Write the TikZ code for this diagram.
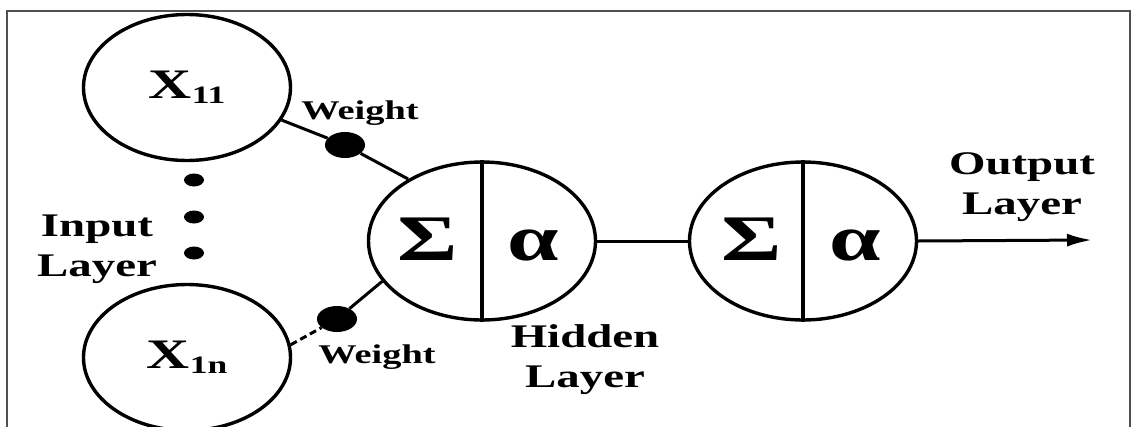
\documentclass[tikz,border=0pt]{standalone}
\usepackage{fontspec}
\setmainfont{Liberation Serif}[FakeStretch=1.42]
\usetikzlibrary{shapes.geometric,arrows.meta}
\definecolor{framegray}{HTML}{505050}
\begin{document}
\begin{tikzpicture}[x=1pt,y=-1pt,
  inp/.style={draw, ellipse, line width=3.4pt, minimum width=207pt, minimum height=146pt, inner sep=0pt,
              font=\fontsize{42}{42}\selectfont\bfseries},
  neuron/.style={draw, ellipse, line width=3.4pt, minimum width=227pt, minimum height=158pt, inner sep=0pt},
  blob/.style={fill, ellipse, minimum width=40pt, minimum height=26pt, inner sep=0pt},
  smalldot/.style={fill, ellipse, minimum width=20pt, minimum height=13pt, inner sep=0pt},
  lbl/.style={font=\fontsize{33}{40}\selectfont\bfseries, align=center, inner sep=0pt},
  wlbl/.style={font=\fontsize{27}{27}\selectfont\bfseries, anchor=base, inner sep=0pt},
  sym/.style={font=\fontsize{65}{65}\selectfont\bfseries, anchor=base, inner sep=0pt},
  conn/.style={line width=3pt}
]
\useasboundingbox (0,0) rectangle (1133,426);
\draw[framegray, line width=1.6pt] (7,432) -- (7,11) -- (1130,11) -- (1130,432);

% input neurons
\node[inp] (x11) at (187,87.5) {X\raisebox{-5pt}{\fontsize{25}{25}\selectfont 11}};
\node[inp] (x1n) at (187,357.5) {X\raisebox{-5pt}{\fontsize{25}{25}\selectfont 1n}};

% dots between inputs
\node[smalldot] (d1) at (194,180) {};
\node[smalldot] (d2) at (194,217) {};
\node[smalldot] (d3) at (194,253) {};

% hidden and output neurons
\node[neuron] (hid) at (482,241) {};
\node[neuron] (out) at (803,241) {};
\draw[line width=3.4pt] (hid.north) -- (hid.south);
\draw[line width=3.4pt] (out.north) -- (out.south);

\node[sym] (hs) at (428,260) {Σ};
\node[sym] (ha) at (533,260) {α};
\node[sym] (os) at (752,260) {Σ};
\node[sym] (oa) at (855,260) {α};

% weights
\node[blob] (w1) at (345,145) {};
\node[blob] (w2) at (337,319) {};
\node[wlbl] (wt1) at (360,119) {Weight};
\node[wlbl] (wt2) at (377,363) {Weight};

% connectors
\draw[conn] (x11.341) -- (w1);
\draw[conn] (w1) -- (hid.140);
\draw[conn, dash pattern=on 7pt off 4pt] (x1n.7) -- (w2);
\draw[conn] (w2) -- (hid.202);
\draw[conn] (hid) -- (out);
\coordinate (outend) at (1092,240);
\draw[conn, -{Latex[length=25pt,width=13pt]}] (out.east) -- (outend);

% labels
\node[lbl] (inlbl) at (97,249) {Input\\Layer};
\node[lbl] (hidlbl) at (585,360) {Hidden\\Layer};
\node[lbl] (outlbl) at (1022,187.5) {Output\\Layer};
\end{tikzpicture}
\end{document}
